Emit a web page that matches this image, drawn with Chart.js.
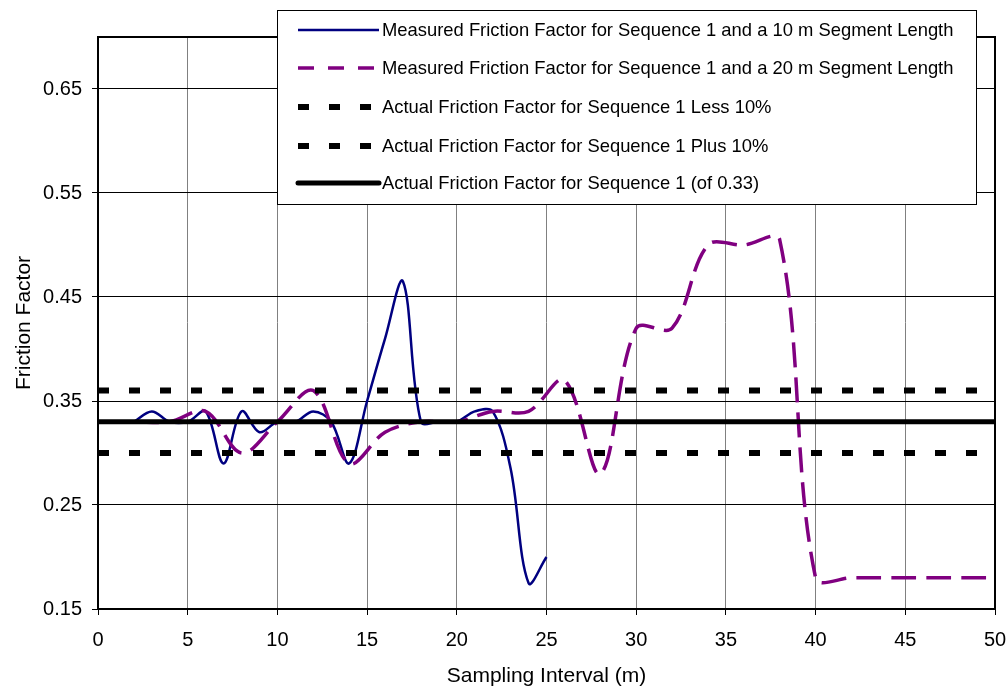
<!DOCTYPE html>
<html>
<head>
<meta charset="utf-8">
<script src="https://cdn.jsdelivr.net/npm/chart.js@4/dist/chart.umd.min.js"></script>
<style>
    html, body { margin: 0; padding: 0; background: #fff; }
    #wrap { width: 1007px; height: 687px; }
</style>
</head>
<body>
<div id="wrap"><canvas id="frictionChart" width="1007" height="687"></canvas></div>
<script>
// Measured friction factor, 10 m segment length
const seg10Interval = [2, 3, 4, 5, 6, 7, 8, 9, 10, 11, 12, 13, 14, 15, 16, 17, 18, 19, 20, 21, 22, 23, 24, 25];
const seg10Friction = [0.33, 0.34, 0.33, 0.33, 0.34, 0.29, 0.34, 0.32, 0.33, 0.33, 0.34, 0.33, 0.29, 0.35, 0.41, 0.465, 0.33, 0.33, 0.33, 0.34, 0.34, 0.285, 0.175, 0.20];

// Measured friction factor, 20 m segment length
const seg20Interval = [2, 4, 6, 8, 10, 12, 14, 16, 18, 20, 22, 24, 26, 28, 30, 32, 34, 36, 38, 40, 42, 44, 46, 48, 50];
const seg20Friction = [0.33, 0.33, 0.34, 0.30, 0.33, 0.36, 0.29, 0.32, 0.33, 0.33, 0.34, 0.34, 0.37, 0.28, 0.42, 0.42, 0.50, 0.50, 0.505, 0.18, 0.18, 0.18, 0.18, 0.18, 0.18];

// Reference lines
const refInterval = [0, 50];
const actualFriction = 0.33;
const lessFriction = 0.30;
const plusFriction = 0.36;

const xTickValues = [0, 5, 10, 15, 20, 25, 30, 35, 40, 45, 50];
const yTickValues = [0.15, 0.25, 0.35, 0.45, 0.55, 0.65];

const seriesLabels = [
    'Measured Friction Factor for Sequence 1 and a 10 m Segment Length',
    'Measured Friction Factor for Sequence 1 and a 20 m Segment Length',
    'Actual Friction Factor for Sequence 1 Less 10%',
    'Actual Friction Factor for Sequence 1 Plus 10%',
    'Actual Friction Factor for Sequence 1 (of 0.33)'
];

const FONT = "'Liberation Sans', Arial, sans-serif";

function toPoints(xs, ys) {
    return xs.map((x, i) => ({ x: x, y: ys[i] }));
}

function flatLine(value) {
    return refInterval.map(x => ({ x: x, y: value }));
}

// plot frame + boxed legend inside the plot, like the original
const frameAndLegend = {
    id: 'frameAndLegend',
    afterDraw(chart) {
        const ctx = chart.ctx;
        const a = chart.chartArea;
        ctx.save();
        ctx.strokeStyle = '#000';
        ctx.lineWidth = 2;
        ctx.strokeRect(a.left, a.top, a.right - a.left, a.bottom - a.top);

        // legend box
        const box = { left: 277, top: 10, right: 976, bottom: 204 };
        ctx.fillStyle = '#fff';
        ctx.fillRect(box.left, box.top, box.right - box.left, box.bottom - box.top);
        ctx.lineWidth = 1;
        ctx.strokeStyle = '#000';
        ctx.strokeRect(box.left + 0.5, box.top + 0.5, box.right - box.left, box.bottom - box.top);

        const rows = [30, 68, 107, 146, 183];
        ctx.font = '18.4px ' + FONT;
        ctx.textBaseline = 'middle';
        ctx.textAlign = 'left';
        chart.data.datasets.forEach((ds, r) => {
            const y = rows[r];
            ctx.beginPath();
            ctx.strokeStyle = ds.borderColor;
            ctx.lineWidth = ds.borderWidth;
            ctx.lineCap = ds.borderCapStyle || 'butt';
            ctx.setLineDash(ds.legendDash || ds.borderDash || []);
            ctx.moveTo(298, y);
            ctx.lineTo(379, y);
            ctx.stroke();
            ctx.setLineDash([]);
            ctx.fillStyle = '#000';
            ctx.fillText(ds.label, 382, y + 1);
        });
        ctx.restore();
    }
};

const chart = new Chart(document.getElementById('frictionChart'), {
    type: 'line',
    data: {
        datasets: [
            {
                label: seriesLabels[0],
                data: toPoints(seg10Interval, seg10Friction),
                borderColor: '#000080',
                borderWidth: 2.5,
                tension: 0.35,
                pointRadius: 0,
                order: 5
            },
            {
                label: seriesLabels[1],
                data: toPoints(seg20Interval, seg20Friction),
                borderColor: '#800080',
                borderWidth: 3.5,
                borderDash: [25, 10],
                legendDash: [16, 14],
                tension: 0.35,
                pointRadius: 0,
                order: 4
            },
            {
                label: seriesLabels[2],
                data: flatLine(lessFriction),
                borderColor: '#000',
                borderWidth: 6,
                borderDash: [11, 20],
                pointRadius: 0,
                order: 3
            },
            {
                label: seriesLabels[3],
                data: flatLine(plusFriction),
                borderColor: '#000',
                borderWidth: 6,
                borderDash: [11, 20],
                pointRadius: 0,
                order: 2
            },
            {
                label: seriesLabels[4],
                data: flatLine(actualFriction),
                borderColor: '#000',
                borderWidth: 5,
                borderCapStyle: 'round',
                pointRadius: 0,
                order: 1
            }
        ]
    },
    options: {
        responsive: false,
        animation: false,
        devicePixelRatio: 1,
        layout: { padding: { top: 37, right: 12, left: 0, bottom: 0 } },
        plugins: {
            legend: { display: false },
            tooltip: { enabled: false }
        },
        scales: {
            x: {
                type: 'linear',
                min: 0,
                max: 50,
                afterFit: s => {
                    s.height = 78;
                    s.paddingLeft = 0;
                    s.paddingRight = 0;
                },
                afterBuildTicks: s => { s.ticks = xTickValues.map(v => ({ value: v })); },
                ticks: {
                    color: '#000',
                    font: { family: FONT, size: 20 },
                    padding: 13,
                    maxRotation: 0,
                    callback: v => String(v)
                },
                grid: { color: '#808080', lineWidth: 1, tickLength: 6, tickColor: '#000' },
                border: { color: '#000', width: 2 },
                title: {
                    display: true,
                    text: 'Sampling Interval (m)',
                    color: '#000',
                    font: { family: FONT, size: 21, lineHeight: 1 },
                    padding: { top: 0, bottom: 0 }
                }
            },
            y: {
                type: 'linear',
                min: 0.15,
                max: 0.70,
                afterFit: s => {
                    s.width = 98;
                    s.paddingTop = 0;
                    s.paddingBottom = 0;
                },
                afterBuildTicks: s => { s.ticks = yTickValues.map(v => ({ value: v })); },
                ticks: {
                    color: '#000',
                    font: { family: FONT, size: 20 },
                    padding: 10,
                    callback: v => v.toFixed(2)
                },
                grid: { color: '#000', lineWidth: 1, tickLength: 6, tickColor: '#000' },
                border: { color: '#000', width: 2 },
                title: {
                    display: true,
                    text: 'Friction Factor',
                    color: '#000',
                    font: { family: FONT, size: 21 },
                    padding: { top: 12, bottom: 0 }
                }
            }
        }
    },
    plugins: [frameAndLegend]
});
</script>
</body>
</html>
